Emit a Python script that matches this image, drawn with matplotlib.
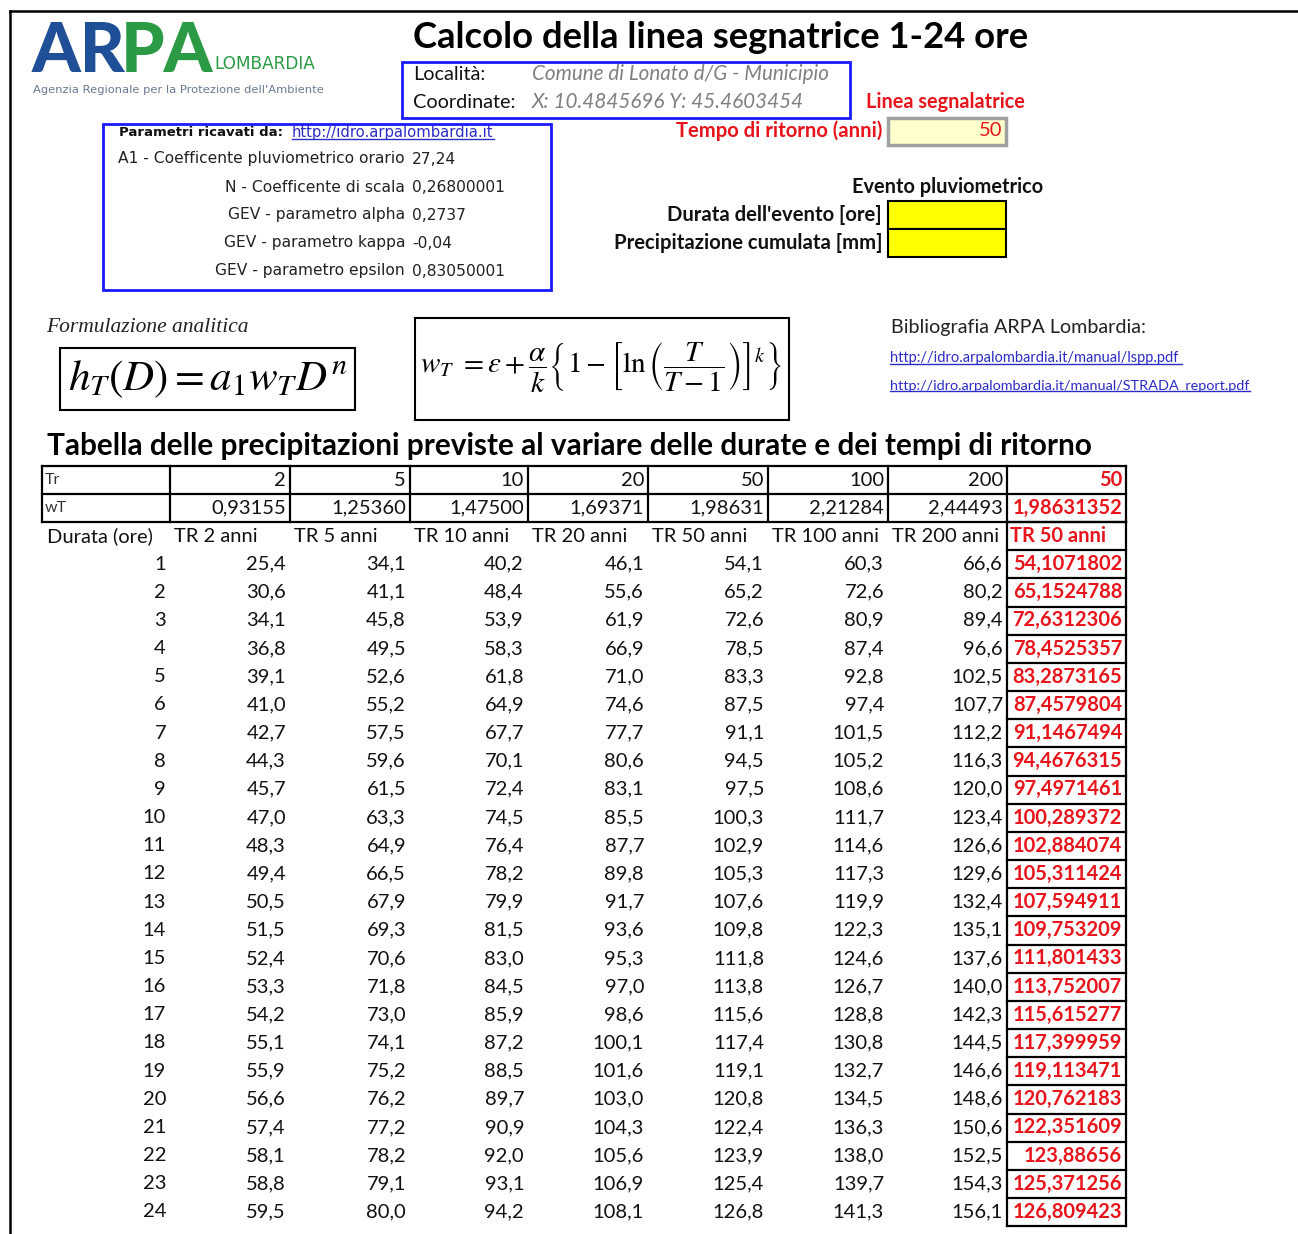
import matplotlib
matplotlib.use("Agg")
import matplotlib.pyplot as plt
from matplotlib.patches import Rectangle

# ---------------- data ----------------
title = "Calcolo della linea segnatrice 1-24 ore"
localita = "Comune di Lonato d/G - Municipio"
coordinate = "X: 10.4845696 Y: 45.4603454"
tempo_ritorno_sel = 50

param_labels = ["A1 - Coefficente pluviometrico orario", "N - Coefficente di scala",
                "GEV - parametro alpha", "GEV - parametro kappa", "GEV - parametro epsilon"]
param_values = [27.24, 0.26800001, 0.2737, -0.04, 0.83050001]

tr_values = [2, 5, 10, 20, 50, 100, 200]
wt_values = [0.93155, 1.25360, 1.47500, 1.69371, 1.98631, 2.21284, 2.44493]
wt_sel = 1.98631352
col_headers = ["TR 2 anni", "TR 5 anni", "TR 10 anni", "TR 20 anni", "TR 50 anni",
               "TR 100 anni", "TR 200 anni"]
durations = [1, 2, 3, 4, 5, 6, 7, 8, 9, 10, 11, 12, 13, 14, 15, 16, 17, 18, 19, 20, 21, 22, 23, 24]
tr2 = [25.4, 30.6, 34.1, 36.8, 39.1, 41.0, 42.7, 44.3, 45.7, 47.0, 48.3, 49.4, 50.5, 51.5, 52.4,
       53.3, 54.2, 55.1, 55.9, 56.6, 57.4, 58.1, 58.8, 59.5]
tr5 = [34.1, 41.1, 45.8, 49.5, 52.6, 55.2, 57.5, 59.6, 61.5, 63.3, 64.9, 66.5, 67.9, 69.3, 70.6,
       71.8, 73.0, 74.1, 75.2, 76.2, 77.2, 78.2, 79.1, 80.0]
tr10 = [40.2, 48.4, 53.9, 58.3, 61.8, 64.9, 67.7, 70.1, 72.4, 74.5, 76.4, 78.2, 79.9, 81.5, 83.0,
        84.5, 85.9, 87.2, 88.5, 89.7, 90.9, 92.0, 93.1, 94.2]
tr20 = [46.1, 55.6, 61.9, 66.9, 71.0, 74.6, 77.7, 80.6, 83.1, 85.5, 87.7, 89.8, 91.7, 93.6, 95.3,
        97.0, 98.6, 100.1, 101.6, 103.0, 104.3, 105.6, 106.9, 108.1]
tr50 = [54.1, 65.2, 72.6, 78.5, 83.3, 87.5, 91.1, 94.5, 97.5, 100.3, 102.9, 105.3, 107.6, 109.8,
        111.8, 113.8, 115.6, 117.4, 119.1, 120.8, 122.4, 123.9, 125.4, 126.8]
tr100 = [60.3, 72.6, 80.9, 87.4, 92.8, 97.4, 101.5, 105.2, 108.6, 111.7, 114.6, 117.3, 119.9,
         122.3, 124.6, 126.7, 128.8, 130.8, 132.7, 134.5, 136.3, 138.0, 139.7, 141.3]
tr200 = [66.6, 80.2, 89.4, 96.6, 102.5, 107.7, 112.2, 116.3, 120.0, 123.4, 126.6, 129.6, 132.4,
         135.1, 137.6, 140.0, 142.3, 144.5, 146.6, 148.6, 150.6, 152.5, 154.3, 156.1]
tr_sel_values = [54.1071802, 65.1524788, 72.6312306, 78.4525357, 83.2873165, 87.4579804,
                 91.1467494, 94.4676315, 97.4971461, 100.289372, 102.884074, 105.311424,
                 107.594911, 109.753209, 111.801433, 113.752007, 115.615277, 117.399959,
                 119.113471, 120.762183, 122.351609, 123.88656, 125.371256, 126.809423]

def it(v):
    return repr(v).replace('.', ',')

# ---------------- figure ----------------
W, H = 1298, 1234
fig = plt.figure(figsize=(W / 100, H / 100), dpi=100)
ax = fig.add_axes([0, 0, 1, 1])
ax.set_xlim(0, W)
ax.set_ylim(H, 0)
ax.axis('off')

SANS = 'Lato'
RED = '#e8141b'
BLUE = '#1a1aff'
LINK = '#2b2bc8'

def T(x, y, s, size=14.5, ha='left', color='#111111', weight='normal', style='normal',
      family=SANS, **kw):
    return ax.text(x, y, s, fontsize=size, ha=ha, va='center', color=color, weight=weight,
                   style=style, family=family, **kw)

def box(x0, y0, x1, y1, ec='black', lw=1.5, fc='none', z=1):
    ax.add_patch(Rectangle((x0, y0), x1 - x0, y1 - y0, fill=(fc != 'none'), fc=fc,
                           ec=ec, lw=lw, zorder=z))

# page border
ax.plot([10, 10], [11, H], color='black', lw=1.8)
ax.plot([10, W], [11, 11], color='black', lw=1.8)

# logo
T(32, 52, "AR", size=50, color='#1f4f96', weight='black', family='Lato')
T(121, 52, "PA", size=50, color='#2a9a45', weight='black', family='Lato')
T(214, 64, "LOMBARDIA", size=12.2, color='#2a9a45', family='DejaVu Sans')
T(33, 90, "Agenzia Regionale per la Protezione dell'Ambiente", size=8.25,
  color='#6a7b94', family='DejaVu Sans')

# title
T(721, 38, title, size=26.2, ha='center', weight='bold', color='black')

# localita box
box(402, 62, 850, 118, ec=BLUE, lw=2)
T(413, 74, "Località:", size=14.3)
T(532, 74, localita, size=14.9, color='#808080', style='italic')
T(413, 102, "Coordinate:", size=14.3)
T(532, 102, coordinate, size=14.9, color='#808080', style='italic')

T(866, 102, "Linea segnalatrice", size=14.3, color=RED, weight='bold')
T(882, 131, "Tempo di ritorno (anni)", size=14.6, color=RED, weight='bold', ha='right')
box(888, 118, 1006, 145, ec='#a0a0a0', lw=2.5, fc='#ffffcc')
T(1002, 131, str(tempo_ritorno_sel), size=14.5, color=RED, ha='right', zorder=3)

# parameters box
box(103, 124, 551, 290, ec=BLUE, lw=2)
T(119, 132, "Parametri ricavati da:", size=9.5, weight='bold', family='DejaVu Sans')
links = []
links.append(T(292, 132, "http://idro.arpalombardia.it", size=10.6, color=LINK, family='DejaVu Sans'))
for i, (lab, val) in enumerate(zip(param_labels, param_values)):
    y = 159 + 28 * i
    T(405, y, lab, size=11.2, ha='right', color='#222222', family='DejaVu Sans')
    T(412, y, it(val), size=11.2, color='#222222', family='DejaVu Sans')

# evento pluviometrico
T(1043, 187, "Evento pluviometrico", size=14.4, weight='bold', ha='right')
T(882, 215, "Durata dell'evento [ore]", size=14.6, weight='bold', ha='right')
T(882, 243, "Precipitazione cumulata [mm]", size=14.6, weight='bold', ha='right')
box(888, 201, 1006, 229, lw=1.5, fc='#ffff00')
box(888, 229, 1006, 257, lw=1.5, fc='#ffff00')

# formulas
T(46, 328, "Formulazione analitica", size=15.5, style='italic', family='Liberation Serif',
  color='#222222')
box(60, 348, 355, 410, lw=1.5)
ax.text(208, 379, r'$h_T\left(D\right)=a_1w_TD^n$', fontsize=31, ha='center', va='center',
        math_fontfamily='stix')
box(415, 318, 789, 420, lw=1.5)
ax.text(601, 368, r'$w_T\ =\varepsilon+\dfrac{\alpha}{k}\left\{1-\left[\ln\left(\dfrac{T}{T-1}\right)\right]^k\right\}$',
        fontsize=21, ha='center', va='center', math_fontfamily='stix')

# bibliography
T(891, 328, "Bibliografia ARPA Lombardia:", size=14.2, color='#222222')
links.append(T(890, 358, "http://idro.arpalombardia.it/manual/lspp.pdf ", size=10.5, color=LINK))
links.append(T(890, 386, "http://idro.arpalombardia.it/manual/STRADA_report.pdf", size=10.4, color=LINK))

# table title
T(47, 446, "Tabella delle precipitazioni previste al variare delle durate e dei tempi di ritorno",
  size=21.4, weight='bold', color='black')

# table
xs = [42, 170, 290, 410, 528, 648, 768, 888, 1007, 1126]
y_tr, y_wt, y_bot = 466, 494, 522
for y in (y_tr, y_wt, y_bot):
    ax.plot([xs[0], xs[-1]], [y, y], color='black', lw=1.6)
for x in xs:
    ax.plot([x, x], [y_tr, y_bot], color='black', lw=1.6)

T(45, 480, "Tr", size=11.5, color='#333333')
T(45, 508, "wT", size=11.5, color='#333333')
for j, (tr, wt) in enumerate(zip(tr_values, wt_values)):
    T(xs[j + 2] - 4, 480, str(tr), ha='right')
    T(xs[j + 2] - 4, 508, f"{wt:.5f}".replace('.', ','), ha='right')
T(xs[-1] - 4, 480, str(tempo_ritorno_sel), ha='right', color=RED, weight='bold')
T(xs[-1] - 4, 508, it(wt_sel), ha='right', color=RED, weight='bold')

row_h = 28.17
y_head = 536
T(47, y_head, "Durata (ore)")
for j, h in enumerate(col_headers):
    T(xs[j + 1] + 4, y_head, h)
T(xs[-2] + 3, y_head, f"TR {tempo_ritorno_sel} anni", color=RED, weight='bold')

series = [tr2, tr5, tr10, tr20, tr50, tr100, tr200]
for i, d in enumerate(durations):
    y = 564 + row_h * i
    T(xs[1] - 4, y, str(d), ha='right')
    for j, s in enumerate(series):
        T(xs[j + 2] - 4, y, f"{s[i]:.1f}".replace('.', ','), ha='right')
    T(xs[-1] - 4, y, it(tr_sel_values[i]), ha='right', color=RED, weight='bold')

# red column borders
n = len(durations)
top = y_bot
for k in range(n + 2):
    yy = top + row_h * k
    ax.plot([xs[-2], xs[-1]], [yy, yy], color='black', lw=1.6)
ax.plot([xs[-2], xs[-2]], [top, top + row_h * (n + 1)], color='black', lw=1.6)
ax.plot([xs[-1], xs[-1]], [top, top + row_h * (n + 1)], color='black', lw=1.6)

# underline links
fig.canvas.draw()
inv = ax.transData.inverted()
r = fig.canvas.get_renderer()
for t in links:
    bb = t.get_window_extent(renderer=r)
    (x0, y0), (x1, y1) = inv.transform([[bb.x0, bb.y0], [bb.x1, bb.y1]])
    ax.plot([x0, x1], [y0 - 1, y0 - 1], color=LINK, lw=1)

fig.savefig("out.png", dpi=100)
